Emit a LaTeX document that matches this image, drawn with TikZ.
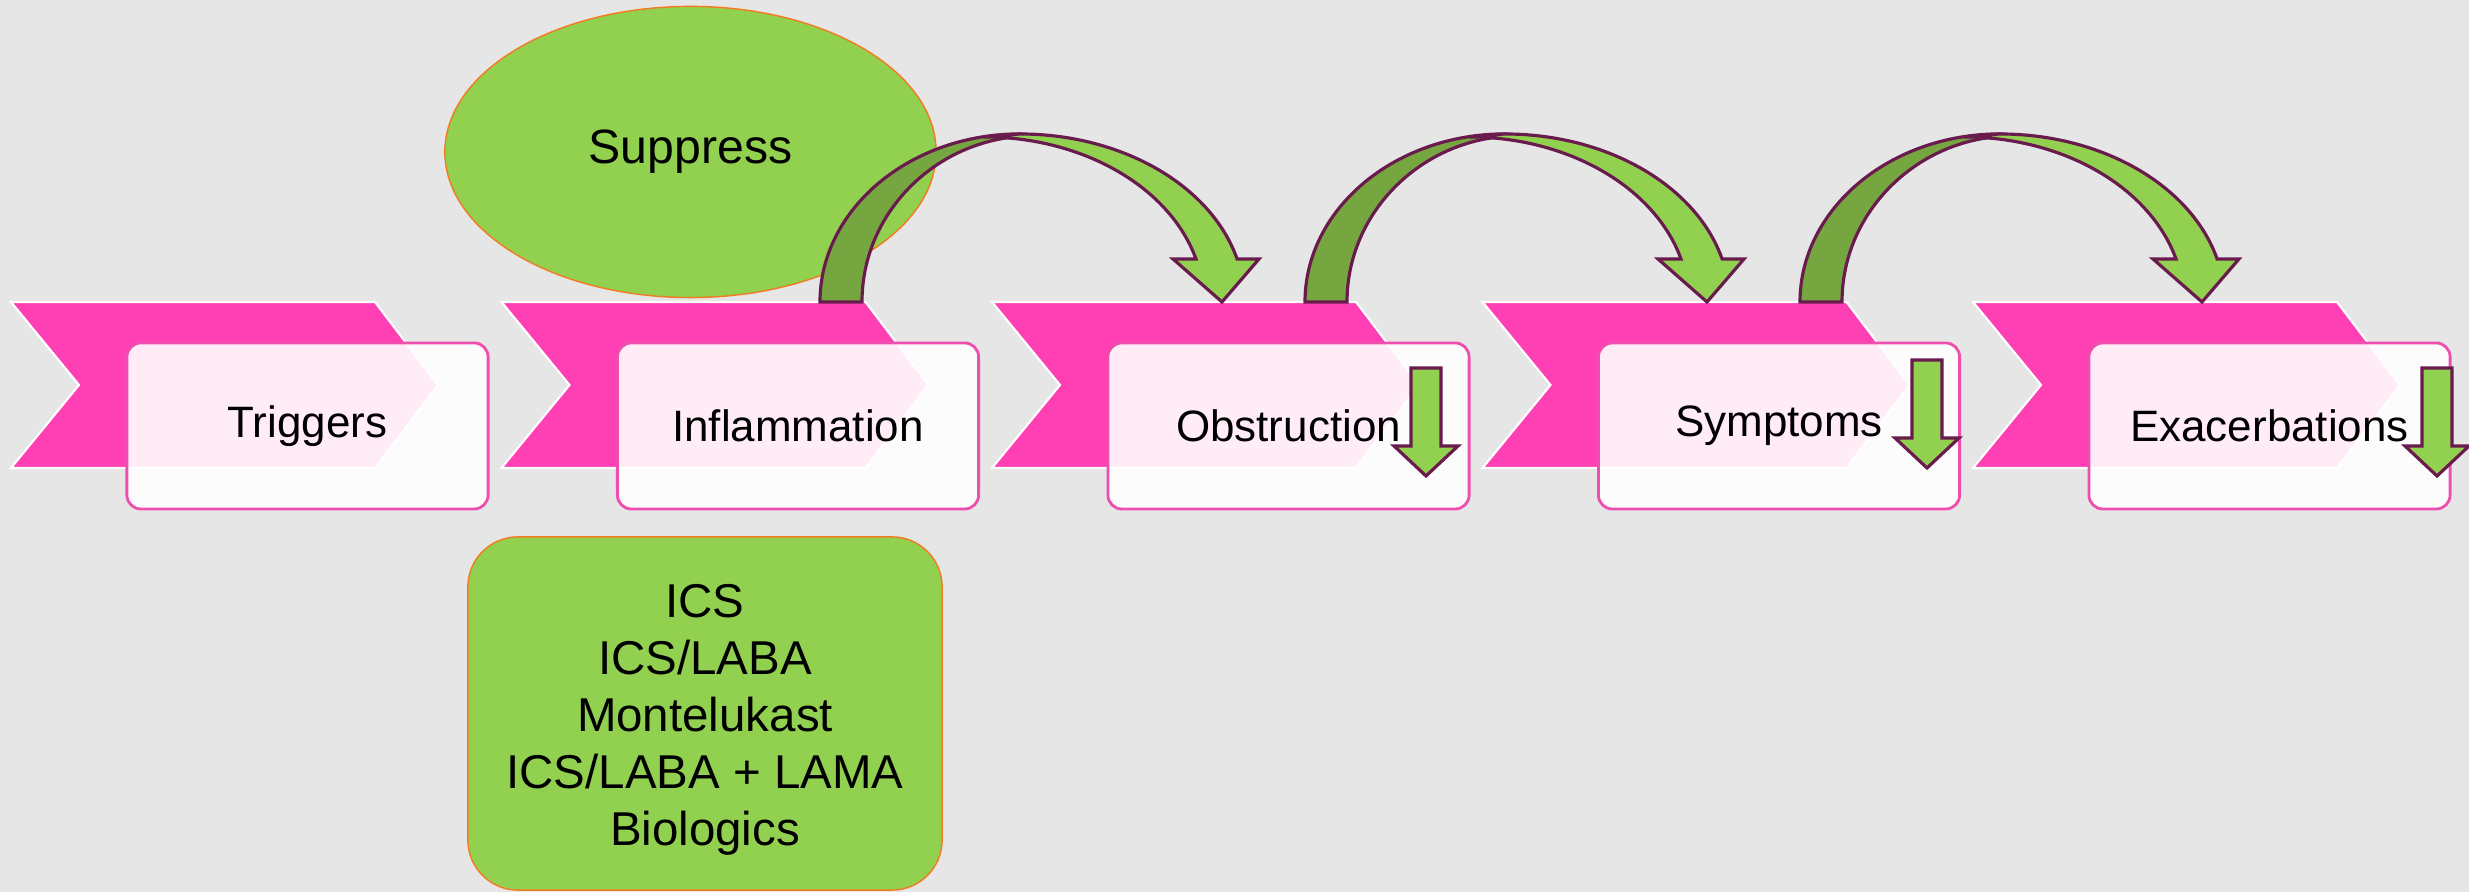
\documentclass[tikz,border=0pt]{standalone}
\usepackage{fontspec}
\setmainfont{Liberation Sans}
\usetikzlibrary{shapes.geometric}
\definecolor{bg}{HTML}{E6E6E6}
\definecolor{hotpink}{HTML}{FF40B4}
\definecolor{pinkline}{HTML}{EE4FAE}
\definecolor{lgreen}{HTML}{92D050}
\definecolor{dgreen}{HTML}{76A63F}
\definecolor{maroon}{HTML}{6A1B4D}
\definecolor{orangeline}{HTML}{F47A20}
\tikzset{
  chevron/.style={fill=hotpink,draw=white,line width=0.6pt},
  stagebox/.style={rectangle,rounded corners=0.14cm,minimum width=3.61cm,minimum height=1.66cm,
    fill=white,fill opacity=0.9,text opacity=1,draw=pinkline,line width=0.8pt,
    font=\fontsize{12.5}{15}\selectfont,inner sep=0pt},
  arrowshape/.style={draw=maroon,line width=0.9pt},
  downarr/.pic={
    \path[arrowshape,fill=lgreen] (-15,0) -- (15,0) -- (15,-78) -- (32,-78) -- (0,-108)
      -- (-32,-78) -- (-15,-78) -- cycle;
  },
  curvearr/.pic={
    \path[arrowshape,fill=dgreen] (-200,0) arc[start angle=180,end angle=90,x radius=2cm,y radius=1.68cm]
      -- (12,166) .. controls (-80,166) and (-158,92) .. (-158,0) -- cycle;
    \path[arrowshape,fill=lgreen] (0,168) arc[start angle=90,end angle=14.83,x radius=2.245cm,y radius=1.68cm]
      -- (239,43) -- (202,0) -- (153,43) -- (176,43)
      arc[start angle=15.38,end angle=90,x radius=2.2cm,y radius=1.66cm] -- cycle;
  }
}
\begin{document}
\begin{tikzpicture}[x=0.01cm,y=0.01cm]
\fill[bg] (0,0) rectangle (2469,892);
\useasboundingbox (0,0) rectangle (2469,892);

% chevrons
\foreach \i in {0,...,4}{
  \path[chevron] ({11+490.5*\i},590) -- ++(364,0) -- ++(63,-83) -- ++(-63,-83)
    -- ++(-364,0) -- ++(68,83) -- cycle;
}

% stage boxes
\node[stagebox] (triggers) at (307.5,466) {Triggers};
\node[stagebox] (inflammation) at (798,466) {Inflammation};
\node[stagebox] (obstruction) at (1288.5,466) {Obstruction};
\node[stagebox] (symptoms) at (1779,466) {Symptoms};
\node[stagebox] (exacerbations) at (2269.5,466) {Exacerbations};

% small down arrows
\pic at (1426,524) {downarr};
\pic at (1927,532) {downarr};
\pic at (2437,524) {downarr};

% suppress ellipse
\node[ellipse,minimum width=4.91cm,minimum height=2.91cm,fill=lgreen,draw=orangeline,
  line width=0.4pt,inner sep=0pt,font=\fontsize{13.7}{16}\selectfont] (suppress) at (690.5,740) {Suppress};

% drug box
\node[rectangle,rounded corners=0.5cm,minimum width=4.74cm,minimum height=3.53cm,fill=lgreen,
  draw=orangeline,line width=0.4pt,inner sep=0pt] (drugs) at (705,178.5) {};
\node[align=center,inner sep=0pt,font=\fontsize{13.5}{16.2}\selectfont] (drugtext)
  at ([yshift=-0.06cm]drugs.center) {ICS\\ICS/LABA\\Montelukast\\ICS/LABA + LAMA\\Biologics};

% curved arrows
\pic at (1020,590) {curvearr};
\pic at (1505,590) {curvearr};
\pic at (2000,590) {curvearr};
\end{tikzpicture}
\end{document}
